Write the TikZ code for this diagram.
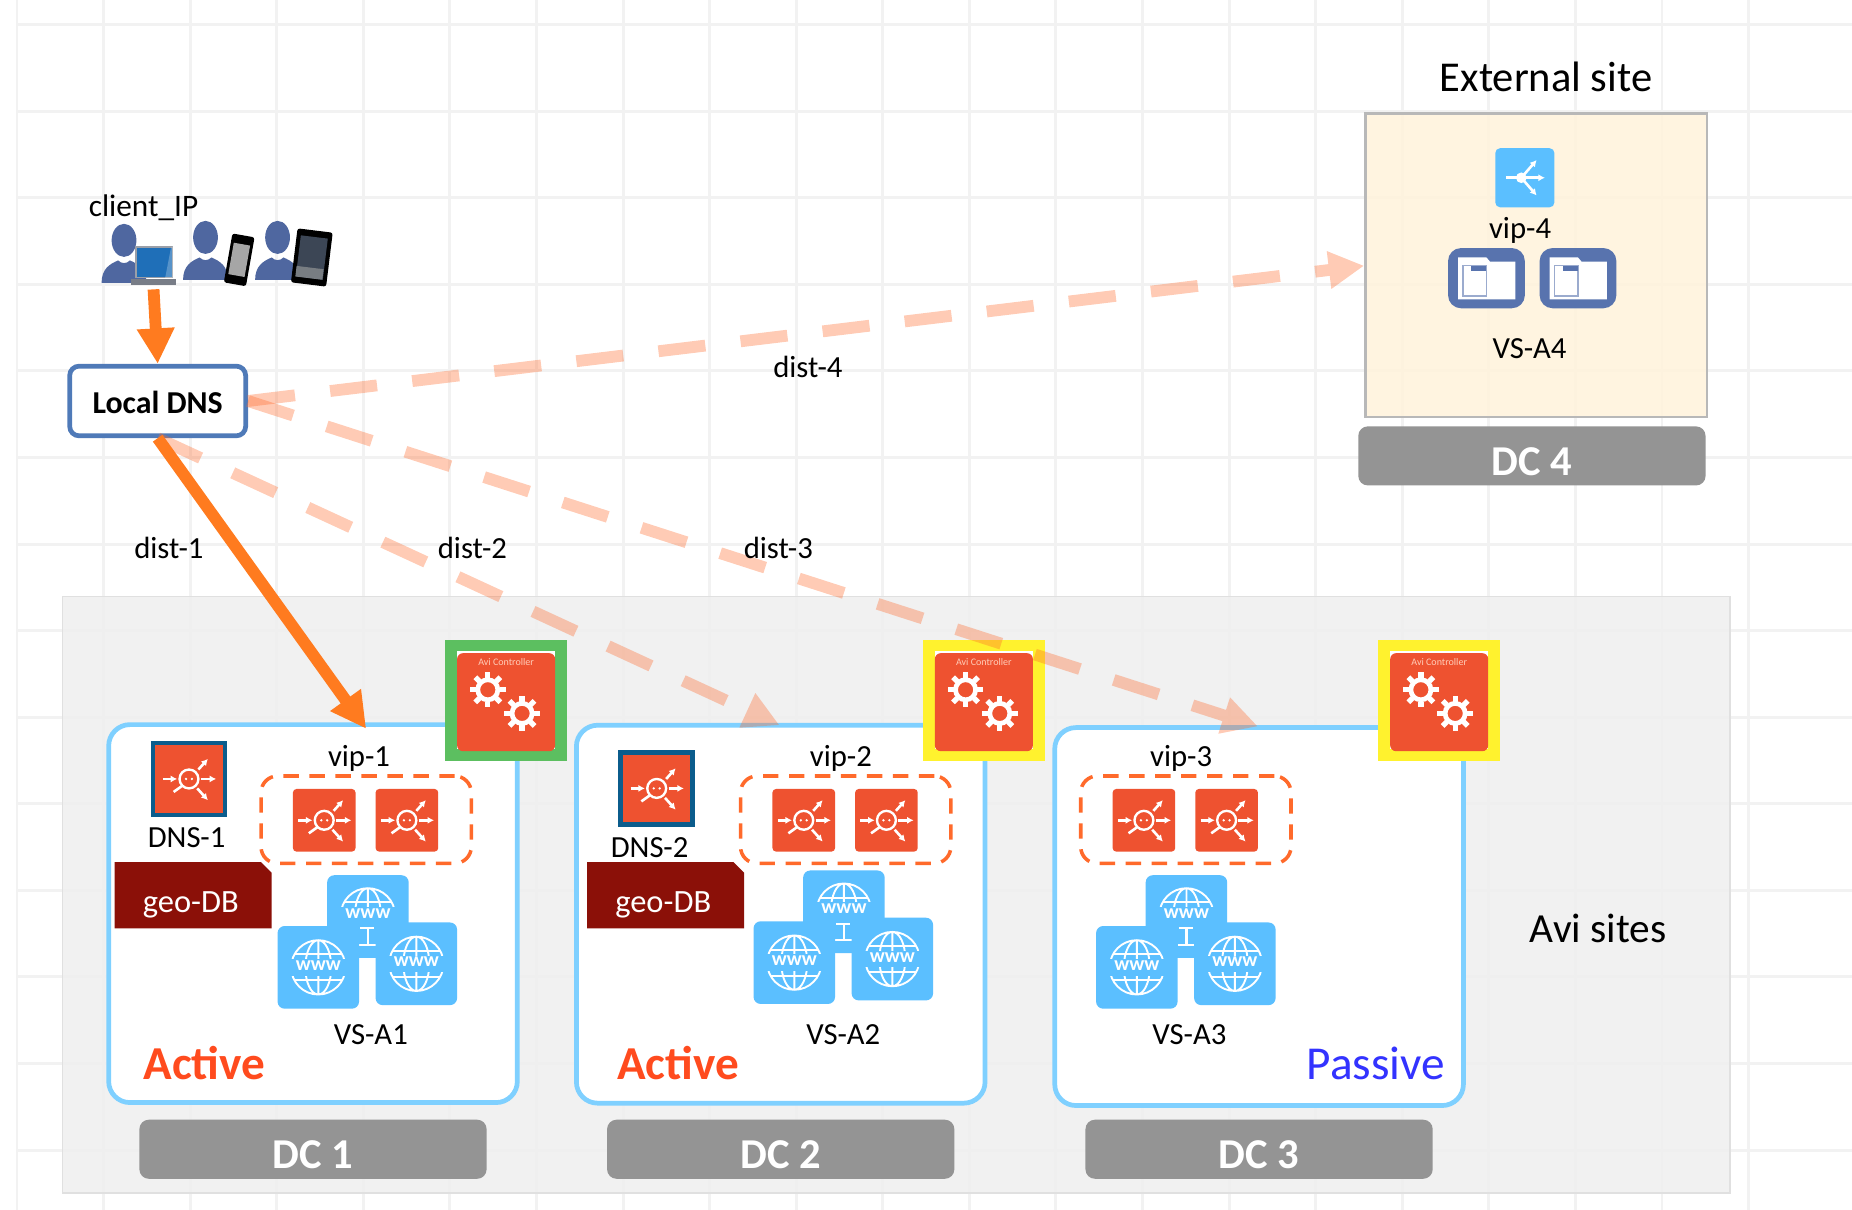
\documentclass[tikz,border=0pt]{standalone}
\usepackage{fontspec}
\setmainfont{Carlito}
\usetikzlibrary{arrows.meta,shapes.misc}
\definecolor{gridgray}{HTML}{F2F2F2}
\definecolor{panelgray}{HTML}{EFEFEF}
\definecolor{avired}{HTML}{EE5230}
\definecolor{avidash}{HTML}{FF6A2B}
\definecolor{activered}{HTML}{FF4B1E}
\definecolor{wwwblue}{HTML}{5BBFFF}
\definecolor{siteblue}{HTML}{7FD0FF}
\definecolor{dcgray}{HTML}{949494}
\definecolor{flow}{HTML}{FF7B1F}
\definecolor{paleorange}{HTML}{FF6A2B}
\definecolor{person}{HTML}{4F67A0}
\definecolor{folderblue}{HTML}{5873AE}
\newcommand{\lowered}[2]{\raisebox{-#1}[0pt][0pt]{#2}}
\tikzset{
	lbl/.style={inner sep=0pt,font=\fontsize{26}{30}\selectfont},
	dclabel/.style={fill=dcgray,rounded corners=8pt,minimum width=294pt,minimum height=50pt,inner sep=0pt,text=white,font=\fontsize{36}{40}\selectfont\bfseries},
	sitebox/.style={draw=siteblue,fill=white,line width=4pt,rounded corners=18pt,minimum width=346pt,minimum height=320pt},
	vipgroup/.style={draw=avidash,dashed,dash pattern=on 13pt off 9pt,line width=3pt,rounded corners=14pt,minimum width=178pt,minimum height=74pt},
	redicon/.style={fill=avired,rounded corners=3pt,minimum size=53pt,inner sep=0pt},
	dnsicon/.style={draw={rgb,255:red,11;green,92;blue,140},line width=4pt,fill=avired,minimum size=61pt,inner sep=0pt},
	wwwicon/.style={fill=wwwblue,rounded corners=6pt,minimum width=69pt,minimum height=70pt,inner sep=0pt},
	ctrlicon/.style={draw=#1,line width=10pt,minimum size=93pt,inner sep=0pt},
	geodb/.style={chamfered rectangle,chamfered rectangle corners=north east,chamfered rectangle xsep=9pt,chamfered rectangle ysep=9pt,fill={rgb,255:red,139;green,16;blue,8},minimum width=133pt,minimum height=56pt,inner sep=0pt,text=white,font=\fontsize{27.5}{30}\selectfont},
	white tip/.style={white,line width=2.2pt,-{Latex[length=5.5pt,width=6pt]}},
	solidflow/.style={flow,line width=10pt,-{Triangle[length=30pt,width=30pt]}},
	paleflow/.style={paleorange,line width=10pt,dash pattern=on 40pt off 30pt,-{Triangle[length=30pt,width=30pt]}},
	fan/.pic={
		\draw[white,line width=2pt] (0,0) circle (8pt);
		\fill[white] (-2.5,0) circle (1.1pt) (2.5,0) circle (1.1pt);
		\draw[white tip] (-22,0) -- (-10,0);
		\draw[white tip] (10,0) -- (23,0);
		\draw[white tip] (8,-8) -- (16,-17);
		\draw[white tip] (7,8) -- (16,18);
		\draw[white,line width=2.2pt] (-6,6) -- (-13,11);
	},
	globe/.pic={
		\draw[white,line width=1.6pt] (0,0) circle (23pt) (0,0) ellipse (11pt and 23pt) (0,-23) -- (0,23);
		\draw[white,line width=1.6pt] (-20,-11) -- (20,-11) (-20,11) -- (20,11);
		\fill[wwwblue] (-25,-7) rectangle (25,7);
		\node[text=white,inner sep=0pt,font=\fontsize{17}{17}\selectfont\bfseries] (w) at (0,-1.5) {www};
	},
	gears/.pic={
		\node[inner sep=0pt,text={rgb,255:red,255;green,205;blue,185},font=\fontsize{8.5}{9}\selectfont] (t) at (0,-34) {Avi Controller};
		\foreach \gx/\gy in {-15.5/-10.5,13.5/9.5}{
			\draw[white,line width=4pt] (\gx,\gy) circle (8.5pt);
			\foreach \a in {0,45,...,315}
				\draw[white,line width=4.5pt] (\gx,\gy) ++(\a:10) -- ++(\a:5);
		}
	},
	folder/.pic={
		\fill[white] (-24,-17.5) -- (0,-17.5) -- (3,-14) -- (24.5,-14) -- (24.5,18) -- (-24,18) -- cycle;
		\draw[folderblue!60,line width=1.2pt] (-20,-10.5) rectangle (0,15);
		\fill[folderblue] (-13,-10.5) rectangle (0,-6);
	},
	user/.pic={
		\fill[person] (0,0) ellipse (10.5pt and 14pt);
		\fill[person] (-19,36) .. controls (-19,24) and (-12,20) .. (-5,17) .. controls (-2,20) and (2,20) .. (5,17) .. controls (12,20) and (19,24) .. (19,36) -- cycle;
	},
}
\begin{document}
\begin{tikzpicture}[x=1pt,y=-1pt]
	\useasboundingbox (0,0) rectangle (1568,1024.4);
	\foreach \k in {0,...,20}
		\draw[gridgray,line width=2.5pt] ({14.4+73.3*\k},0) -- ({14.4+73.3*\k},1024.4);
	\foreach \k in {0,...,13}
		\draw[gridgray,line width=2.5pt] (14.4,{20.8+73.3*\k}) -- (1568,{20.8+73.3*\k});
	\draw[black!12,fill=panelgray,fill opacity=.9,line width=1.5pt] (53,505) rectangle (1465,1010);
	\draw[black!28,fill={rgb,255:red,255;green,243;blue,220},fill opacity=.88,line width=2pt] (1156,96) rectangle (1445,353);

	\node[lbl,font=\fontsize{36}{40}\selectfont] (extsite) at (1309,65) {External site};
	\node[lbl,font=\fontsize{35}{40}\selectfont] (avisites) at (1353,786) {Avi sites};
	\node[fill=wwwblue,rounded corners=4pt,minimum size=50pt,inner sep=0pt] (vip4) at (1291,150.5) {};
	\draw[white,line width=2.2pt] (vip4) ++(-16,0) -- ++(10,0);
	\fill[white] (vip4) ++(-3,0) circle (4.5pt);
	\draw[white tip] (vip4) ++(-3,0) -- ++(20,0);
	\draw[white tip] (vip4) ++(-3,0) -- ++(13,-15);
	\draw[white tip] (vip4) ++(-3,0) -- ++(13,15);
	\node[lbl] (vip4txt) at (1287,195) {vip-4};
	\foreach \n/\x in {a/1258.5,b/1336}{
		\node[fill=folderblue,rounded corners=11pt,minimum width=65pt,minimum height=51pt,inner sep=0pt] (vs4\n) at (\x,235.5) {};
		\pic at (vs4\n) {folder};
	}
	\node[lbl] (vs4txt) at (1295,295) {VS-A4};
	\node[dclabel] (dc4) at (1297,386) {\lowered{16.5pt}{DC 4}};

	\foreach \n/\bx/\by/\wx/\wy/\vx/\vs in {1/265/773.5/0/0/304/314,2/661/774/403/-4/712/714,3/1066/776/693/0/1000/1007}{
		\node[sitebox] (site\n) at (\bx,\by) {};
		\node[dclabel] (dc\n) at (\bx,973) {\lowered{16.5pt}{DC \n}};
		\node[lbl] (vip\n txt) at (\vx,642.5) {vip-\n};
		\node[wwwicon] (wt\n) at ({311.5+\wx},{776+\wy}) {};
		\begin{scope}
			\clip ({277+\wx},{741+\wy}) rectangle ({346+\wx},{779+\wy});
			\pic at ({311.5+\wx},{775+\wy}) {globe};
		\end{scope}
		\draw[white,line width=1.8pt] ({305+\wx},{786+\wy}) -- ({317+\wx},{786+\wy}) ({311.5+\wx},{786+\wy}) -- ({311.5+\wx},{800+\wy}) ({304+\wx},{800+\wy}) -- ({319+\wx},{800+\wy});
		\node[wwwicon] (wl\n) at ({269.5+\wx},{819+\wy}) {};
		\node[wwwicon] (wr\n) at ({352.5+\wx},{816+\wy}) {};
		\pic at (wl\n) {globe};
		\pic at (wr\n) {globe};
		\node[lbl] (vs\n txt) at (\vs,876) {VS-A\n};
	}
	\node[lbl,text=activered,font=\fontsize{40}{44}\selectfont\bfseries] (st1) at (173,900) {Active};
	\node[lbl,text=activered,font=\fontsize{40}{44}\selectfont\bfseries] (st2) at (574,900) {Active};
	\node[lbl,text=blue!80!white,font=\fontsize{40}{44}\selectfont] (st3) at (1165,900) {Passive};

	\foreach \n/\x in {1/310,2/716,3/1004}{
		\node[vipgroup] (grp\n) at (\x,694) {};
		\node[redicon] (vip\n a) at ({\x-35.5},694.5) {};
		\node[redicon] (vip\n b) at ({\x+34.5},694.5) {};
		\pic at (vip\n a) {fan};
		\pic at (vip\n b) {fan};
	}
	\foreach \n/\x/\y/\lx/\gx in {1/160/659.5/158/163.5,2/556/667.5/550/563.5}{
		\node[dnsicon] (dns\n) at (\x,\y) {};
		\pic at (dns\n) {fan};
		\node[lbl] (dns\n txt) at (\lx,{\y+50}) {DNS-\n};
		\node[geodb] (geo\n) at (\gx,758) {\lowered{14.5pt}{\hspace*{-4pt}geo-DB}};
	}
	\foreach \n/\x/\c in {1/428.5/{rgb,255:red,92;green,191;blue,96},2/833/{rgb,255:red,255;green,242;blue,46},3/1218.5/{rgb,255:red,255;green,242;blue,46}}{
		\node[ctrlicon=\c,fill=white] (ctrl\n) at (\x,593) {};
		\node[redicon,minimum size=83pt,rounded corners=5pt] (ctrl\n in) at (\x,594.5) {};
		\pic at (ctrl\n in) {gears};
	}

	\node[lbl,font=\fontsize{26.5}{30}\selectfont] (clientip) at (121.5,176) {client\_IP};
	\pic at (105,203.5) {user};
	\pic at (174,201) {user};
	\pic at (235,201) {user};
	\node[draw={rgb,255:red,154;green,159;blue,168},line width=1.5pt,fill={rgb,255:red,31;green,111;blue,184},minimum width=31pt,minimum height=26pt,inner sep=0pt] (laptop) at (130.5,222) {};
	\fill[white,opacity=.25] (laptop.north east) -- (laptop.south east) -- ++(-7,0) -- ++(5,-26) -- cycle;
	\node[fill={rgb,255:red,120;green,125;blue,135},minimum width=38pt,minimum height=5pt,inner sep=0pt] (laptopbase) at (130,239) {};
	\node[fill=black,rounded corners=2pt,rotate=-10,minimum width=19pt,minimum height=42pt,inner sep=0pt] (phone) at (202.5,220) {};
	\node[fill=black!35,rotate=-10,minimum width=14pt,minimum height=27pt,inner sep=0pt] (phonescr) at (202.5,220) {};
	\node[fill=black,rounded corners=2pt,rotate=-7,minimum width=30pt,minimum height=46pt,inner sep=0pt] (tablet) at (264,218) {};
	\node[fill={rgb,255:red,60;green,70;blue,85},rotate=-7,minimum width=23pt,minimum height=35pt,inner sep=0pt] (tabletscr) at (264,218) {};
	\node[fill={rgb,255:red,120;green,125;blue,130},rotate=-7,minimum width=23pt,minimum height=9pt,inner sep=0pt] (tabletdock) at (262,231) {};

	\node[draw={rgb,255:red,79;green,122;blue,184},fill=white,line width=4pt,rounded corners=8pt,minimum width=149pt,minimum height=59pt,inner sep=0pt,font=\fontsize{27}{30}\selectfont\bfseries] (ldns) at (133.5,339.5) {\lowered{11pt}{Local DNS}};
	\coordinate (client) at (130,245);
	\coordinate (in1) at (310,617);
	\coordinate (in2) at (660,614);
	\coordinate (in3) at (1065,615);
	\coordinate (in4) at (1155,225);
	\foreach \a/\b in {ldns.south/in2,ldns.east/in3,ldns.east/in4}{
		\begin{scope}[transparency group,opacity=.35]
			\draw[paleflow] (\a) -- (\b);
		\end{scope}
	}
	\draw[solidflow] (ldns.south) -- (in1);
	\draw[solidflow] (client) -- (ldns.north);
	\node[lbl] (d1) at (143,464) {dist-1};
	\node[lbl] (d2) at (400,464) {dist-2};
	\node[lbl] (d3) at (659,464) {dist-3};
	\node[lbl] (d4) at (684,311) {dist-4};
\end{tikzpicture}
\end{document}
